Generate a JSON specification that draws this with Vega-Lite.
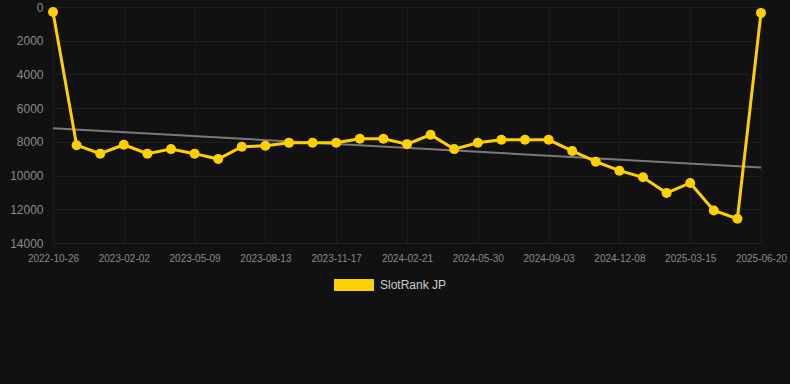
{
  "$schema": "https://vega.github.io/schema/vega-lite/v6.json",
  "width": 708,
  "height": 236,
  "autosize": {"type": "none"},
  "padding": {"left": 53, "top": 7, "right": 29, "bottom": 141},
  "background": "#111111",
  "config": {
    "view": {"stroke": null},
    "font": "Liberation Sans",
    "axis": {
      "gridColor": "#1e1e1e",
      "gridWidth": 1,
      "domain": false,
      "ticks": false,
      "labelColor": "#8a8a8a",
      "labelFont": "Liberation Sans"
    }
  },
  "data": {
    "values": [
      {"date": "2022-10-26", "rank": 300, "trend": 7200},
      {"date": "2022-11-28", "rank": 8200},
      {"date": "2022-12-31", "rank": 8700},
      {"date": "2023-02-02", "rank": 8170},
      {"date": "2023-03-06", "rank": 8700},
      {"date": "2023-04-07", "rank": 8430},
      {"date": "2023-05-09", "rank": 8700},
      {"date": "2023-06-10", "rank": 9020},
      {"date": "2023-07-12", "rank": 8290},
      {"date": "2023-08-13", "rank": 8230},
      {"date": "2023-09-14", "rank": 8060},
      {"date": "2023-10-16", "rank": 8055},
      {"date": "2023-11-17", "rank": 8055},
      {"date": "2023-12-19", "rank": 7820},
      {"date": "2024-01-20", "rank": 7820},
      {"date": "2024-02-21", "rank": 8135},
      {"date": "2024-03-24", "rank": 7580},
      {"date": "2024-04-27", "rank": 8430},
      {"date": "2024-05-30", "rank": 8055},
      {"date": "2024-07-01", "rank": 7880},
      {"date": "2024-08-02", "rank": 7880},
      {"date": "2024-09-03", "rank": 7880},
      {"date": "2024-10-05", "rank": 8540},
      {"date": "2024-11-06", "rank": 9175},
      {"date": "2024-12-08", "rank": 9710},
      {"date": "2025-01-09", "rank": 10100},
      {"date": "2025-02-11", "rank": 11030},
      {"date": "2025-03-15", "rank": 10440},
      {"date": "2025-04-16", "rank": 12070},
      {"date": "2025-05-18", "rank": 12560},
      {"date": "2025-06-20", "rank": 350, "trend": 9520}
    ]
  },
  "encoding": {
    "x": {
      "field": "date",
      "type": "ordinal",
      "sort": "ascending",
      "scale": {"type": "point", "padding": 0},
      "axis": {
        "title": null,
        "labelAngle": 0,
        "labelFontSize": 10,
        "labelPadding": 10,
        "grid": true,
        "values": ["2022-10-26", "2023-02-02", "2023-05-09", "2023-08-13", "2023-11-17", "2024-02-21", "2024-05-30", "2024-09-03", "2024-12-08", "2025-03-15", "2025-06-20"]
      }
    },
    "y": {
      "type": "quantitative",
      "scale": {"domain": [0, 14000], "reverse": true, "nice": false},
      "axis": {
        "title": null,
        "values": [0, 2000, 4000, 6000, 8000, 10000, 12000, 14000],
        "format": "d",
        "labelFontSize": 12,
        "labelPadding": 10,
        "labelOverlap": false,
        "grid": true
      }
    }
  },
  "layer": [
    {
      "transform": [{"filter": "isValid(datum.trend)"}],
      "mark": {"type": "line", "color": "#7a7a7a", "strokeWidth": 2},
      "encoding": {
        "y": {"field": "trend", "type": "quantitative", "scale": {"domain": [0, 14000], "reverse": true, "nice": false}}
      }
    },
    {
      "mark": {"type": "line", "color": "#FFD000", "strokeWidth": 3},
      "encoding": {
        "y": {"field": "rank", "type": "quantitative", "scale": {"domain": [0, 14000], "reverse": true, "nice": false}}
      }
    },
    {
      "mark": {"type": "point", "filled": true, "opacity": 1, "size": 100},
      "encoding": {
        "y": {"field": "rank", "type": "quantitative", "scale": {"domain": [0, 14000], "reverse": true, "nice": false}},
        "color": {
          "datum": "SlotRank JP",
          "type": "nominal",
          "scale": {"domain": ["SlotRank JP"], "range": ["#FFD000"]},
          "legend": {
            "title": null,
            "orient": "none",
            "legendX": 281,
            "legendY": 258,
            "symbolType": "M-1,-0.3H1V0.3H-1Z",
            "symbolSize": 1600,
            "symbolStrokeWidth": 0,
            "symbolOpacity": 1,
            "labelColor": "#cccccc",
            "labelFontSize": 12,
            "labelFont": "Liberation Sans",
            "labelOffset": 6
          }
        }
      }
    }
  ]
}
